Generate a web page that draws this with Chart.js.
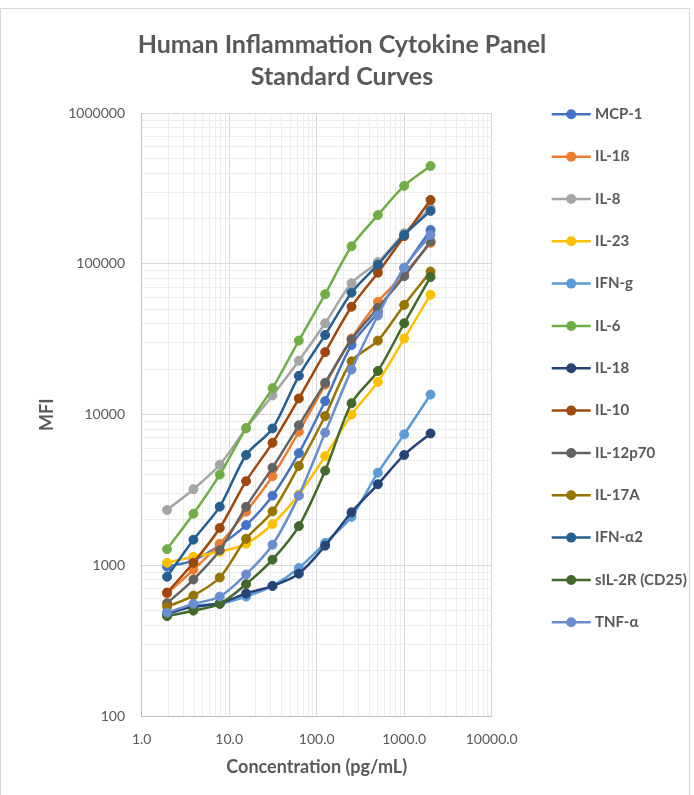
<!DOCTYPE html>
<html>
<head>
<meta charset="utf-8">
<script src="https://cdn.jsdelivr.net/npm/chart.js@4.4.1/dist/chart.umd.min.js"></script>
<style>
html,body{margin:0;padding:0;background:#fff;}
#wrap{position:relative;width:694px;height:795px;overflow:hidden;}
#frame{position:absolute;left:0;top:8px;width:690px;height:800px;border:1px solid #d9d9d9;box-sizing:border-box;}
canvas{position:absolute;left:0;top:0;}
</style>
</head>
<body>
<div id="wrap"><div id="frame"></div><canvas id="c" width="694" height="795"></canvas></div>
<script>
// ---- data ----
const concentrations = [1.95, 3.9, 7.8, 15.6, 31.25, 62.5, 125, 250, 500, 1000, 2000];
const seriesNames = ['MCP-1', 'IL-1ß', 'IL-8', 'IL-23', 'IFN-g', 'IL-6', 'IL-18', 'IL-10', 'IL-12p70', 'IL-17A', 'IFN-α2', 'sIL-2R (CD25)', 'TNF-α'];
const mcp1    = [980, 1080, 1360, 1850, 2900, 5550, 12300, 29000, 48000, 94000, 168000];
const il1b    = [650, 935, 1390, 2270, 3900, 7700, 15800, 32000, 56000, 86000, 138000];
const il8     = [2330, 3200, 4650, 8100, 13400, 22800, 40400, 74500, 103000, 160000, 235000];
const il23    = [1040, 1140, 1230, 1390, 1880, 2950, 5300, 10000, 16500, 32000, 62500];
const ifng    = [470, 540, 555, 620, 730, 960, 1410, 2100, 4120, 7400, 13600];
const il6     = [1280, 2200, 4000, 8150, 15000, 31000, 63000, 131000, 211000, 330000, 447000];
const il18    = [480, 530, 560, 650, 730, 880, 1350, 2250, 3450, 5400, 7500];
const il10    = [660, 1040, 1770, 3620, 6500, 12800, 26000, 52000, 87500, 153000, 266000];
const il12p70 = [560, 805, 1260, 2450, 4450, 8500, 16300, 31500, 51000, 83000, 141000];
const il17a   = [530, 630, 830, 1500, 2280, 4570, 9800, 22600, 31000, 53500, 89000];
const ifna2   = [840, 1480, 2450, 5400, 8100, 18100, 33800, 64500, 99000, 156000, 225000];
const sil2r   = [460, 500, 555, 750, 1090, 1820, 4250, 11900, 19500, 40400, 82000];
const tnfa    = [485, 555, 620, 870, 1370, 2900, 7600, 19900, 45500, 94500, 156000];
const xTickValues = [1, 10, 100, 1000, 10000];
const yTickValues = [100, 1000, 10000, 100000, 1000000];

// ---- styles ----
const seriesValues = [mcp1, il1b, il8, il23, ifng, il6, il18, il10, il12p70, il17a, ifna2, sil2r, tnfa];
const colors = ['#4472C4', '#ED7D31', '#A5A5A5', '#FFC000', '#5B9BD5', '#70AD47', '#264478', '#9E480E', '#636363', '#997300', '#255E91', '#43682B', '#698ED0'];
const TEXT = '#595959';
const FONT = 'Lato, "Open Sans", sans-serif';

function isPow10(v) {
  const e = Math.log10(v);
  return Math.abs(e - Math.round(e)) < 1e-9;
}
function gridColor(c) {
  if (!c.tick) return 'rgba(0,0,0,0)';
  const v = c.tick.value;
  if (isPow10(v)) return '#d9d9d9';
  const sig = v / Math.pow(10, Math.floor(Math.log10(v) + 1e-9));
  if (Math.abs(sig - Math.round(sig)) > 1e-6) return 'rgba(0,0,0,0)';
  return '#ededed';
}

const N = seriesNames.length;
const datasets = seriesNames.map((name, i) => ({
  label: name,
  data: concentrations.map((c, j) => ({x: c, y: seriesValues[i][j]})),
  borderColor: colors[i],
  backgroundColor: colors[i],
  pointBackgroundColor: colors[i],
  pointBorderColor: colors[i],
  borderWidth: 2.5,
  pointRadius: 4.5,
  pointBorderWidth: 1,
  tension: 0.3,
  fill: false,
  order: N - i
}));

// side legend as a layout box
const LEGEND_WIDTH = 192.3;
const sideLegend = {
  id: 'sideLegend',
  start(chart) {
    const box = {
      position: 'right', weight: 1000, fullSize: false, options: {},
      left: 0, top: 0, right: 0, bottom: 0, width: 0, height: 0,
      isHorizontal() { return false; },
      update(maxWidth, maxHeight) { this.width = LEGEND_WIDTH; this.height = maxHeight; },
      draw() {
        const ctx = chart.ctx;
        ctx.save();
        chart.data.datasets.forEach((ds, i) => {
          const y = this.top + 1 + i * 42.33;
          const x0 = this.left + 60;
          ctx.strokeStyle = ds.borderColor;
          ctx.lineWidth = 2.5;
          ctx.beginPath();
          ctx.moveTo(x0, y);
          ctx.lineTo(x0 + 39, y);
          ctx.stroke();
          ctx.fillStyle = ds.borderColor;
          ctx.beginPath();
          ctx.arc(x0 + 19.5, y, 5, 0, Math.PI * 2);
          ctx.fill();
          ctx.fillStyle = TEXT;
          ctx.font = 'bold 15px ' + FONT;
          ctx.textBaseline = 'middle';
          ctx.textAlign = 'left';
          ctx.fillText(ds.label, x0 + 43.3, y);
        });
        ctx.restore();
      }
    };
    chart.$sideLegend = box;
    Chart.layouts.addBox(chart, box);
  },
  stop(chart) {
    if (chart.$sideLegend) Chart.layouts.removeBox(chart, chart.$sideLegend);
  }
};

new Chart(document.getElementById('c'), {
  type: 'line',
  data: {datasets},
  options: {
    responsive: false,
    animation: false,
    devicePixelRatio: 1,
    layout: {padding: {left: 0, right: 10, top: 0, bottom: 0}},
    plugins: {
      legend: {display: false},
      tooltip: {enabled: false},
      title: {
        display: true,
        text: ['Human Inflammation Cytokine Panel', 'Standard Curves'],
        color: TEXT,
        font: {family: FONT, size: 25, weight: 'bold', lineHeight: '32px'},
        padding: {top: 29, bottom: 20.3}
      }
    },
    scales: {
      x: {
        type: 'logarithmic', min: 1, max: 10000, position: 'bottom',
        grid: {color: gridColor, drawTicks: false, lineWidth: 1},
        border: {display: true, color: '#bfbfbf', width: 1},
        ticks: {
          autoSkip: false, maxRotation: 0, padding: 15, color: TEXT,
          font: {family: FONT, size: 14},
          callback: (v) => xTickValues.some(t => Math.abs(t - v) < 1e-9) ? Number(v).toFixed(1) : ''
        },
        title: {
          display: true, text: 'Concentration (pg/mL)', color: TEXT,
          font: {family: FONT, size: 18, weight: 'bold', lineHeight: '21px'},
          padding: {top: 8, bottom: 17.8}
        },
        afterFit: (s) => { s.height = 79; }
      },
      y: {
        type: 'logarithmic', min: 100, max: 1000000,
        grid: {color: gridColor, drawTicks: false, lineWidth: 1},
        border: {display: true, color: '#bfbfbf', width: 1},
        ticks: {
          autoSkip: false, padding: 16.7, color: TEXT,
          font: {family: FONT, size: 14},
          callback: (v) => yTickValues.some(t => Math.abs(t - v) < 1e-6) ? String(Math.round(v)) : ''
        },
        title: {
          display: true, text: 'MFI', color: TEXT,
          font: {family: FONT, size: 18, weight: 'bold', lineHeight: '21px'},
          padding: {top: 36.5, bottom: 0}
        },
        afterFit: (s) => { s.width = 141.7; }
      }
    }
  },
  plugins: [sideLegend]
});
</script>
</body>
</html>
